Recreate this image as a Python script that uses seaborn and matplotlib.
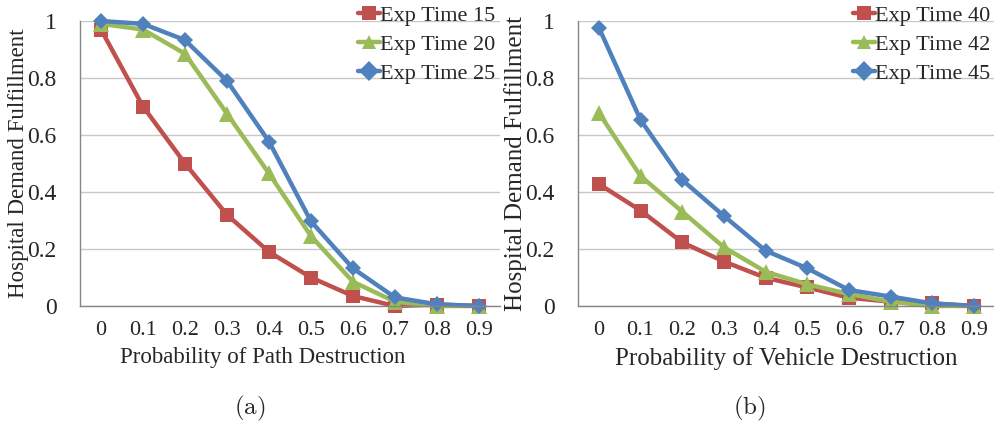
import numpy as np
import pandas as pd
import matplotlib
matplotlib.use("Agg")
import matplotlib.pyplot as plt
import seaborn as sns
from matplotlib.ticker import FixedLocator, NullFormatter, FixedFormatter

# ---- data ----
prob_labels = ["0", "0.1", "0.2", "0.3", "0.4", "0.5", "0.6", "0.7", "0.8", "0.9"]

path_series = ["Exp Time 15", "Exp Time 20", "Exp Time 25"]
path_t15 = [0.97, 0.70, 0.50, 0.32, 0.19, 0.10, 0.035, 0.0, 0.005, 0.0]
path_t20 = [0.99, 0.97, 0.885, 0.675, 0.465, 0.245, 0.085, 0.015, 0.0, 0.0]
path_t25 = [1.0, 0.99, 0.933, 0.79, 0.577, 0.297, 0.132, 0.03, 0.006, 0.0]

veh_series = ["Exp Time 40", "Exp Time 42", "Exp Time 45"]
veh_t40 = [0.428, 0.335, 0.223, 0.156, 0.099, 0.065, 0.029, 0.015, 0.009, 0.0]
veh_t42 = [0.678, 0.456, 0.331, 0.206, 0.12, 0.076, 0.042, 0.015, 0.0, 0.0]
veh_t45 = [0.977, 0.653, 0.442, 0.316, 0.194, 0.132, 0.056, 0.033, 0.009, 0.0]

yticks = [0, 0.2, 0.4, 0.6, 0.8, 1.0]
ytick_labels = ["0", "0.2", "0.4", "0.6", "0.8", "1"]

colors = ["#C0504D", "#9BBB59", "#4F81BD"]
markers = ["s", "^", "D"]

sns.set_style("white")
plt.rcParams["font.family"] = ["Liberation Serif", "DejaVu Serif"]
plt.rcParams["mathtext.fontset"] = "cm"

fig = plt.figure(figsize=(9.95, 4.4), dpi=100)
ax1 = fig.add_axes([80 / 995, 134 / 440, 420 / 995, 285 / 440])
ax2 = fig.add_axes([578 / 995, 134 / 440, 417 / 995, 285 / 440])


def make_df(names, vals):
    rows = []
    for n, v in zip(names, vals):
        for i, y in enumerate(v):
            rows.append({"x": i, "y": y, "series": n})
    return pd.DataFrame(rows)


def draw(ax, names, vals, xlabel, caption, ylab_x, xlab_x, lab_size, cap_x):
    df = make_df(names, vals)
    sns.lineplot(data=df, x="x", y="y", hue="series", style="series",
                 palette=dict(zip(names, colors)),
                 markers=dict(zip(names, markers)),
                 dashes=False, linewidth=3.2, markersize=10,
                 markeredgewidth=0, ax=ax, legend=True, sort=False)
    for line, m in zip(ax.get_lines(), markers):
        if m == "D":
            line.set_markersize(8.5)
        elif m == "^":
            line.set_markersize(11)
    ax.set_xlim(-0.5, 9.5)
    ax.set_ylim(0, 1.0)
    ax.set_yticks(yticks)
    ax.set_yticklabels(ytick_labels, fontsize=17)
    ax.xaxis.set_major_locator(FixedLocator(np.arange(-0.5, 10, 1.0)))
    ax.xaxis.set_major_formatter(NullFormatter())
    ax.xaxis.set_minor_locator(FixedLocator(np.arange(0, 10)))
    ax.xaxis.set_minor_formatter(FixedFormatter(prob_labels))
    ax.tick_params(axis="x", which="major", length=5, color="#868686", width=1, direction="out")
    ax.tick_params(axis="x", which="minor", length=0, labelsize=16, pad=11)
    ax.tick_params(axis="y", length=5, color="#868686", width=1, direction="out", pad=12)
    ax.grid(axis="y", color="#C8C8C8", linewidth=1)
    ax.set_axisbelow(True)
    for s in ["top", "right"]:
        ax.spines[s].set_visible(False)
    for s in ["left", "bottom"]:
        ax.spines[s].set_color("#868686")
        ax.spines[s].set_linewidth(1)
    ax.set_xlabel(xlabel, fontsize=lab_size)
    ax.xaxis.set_label_coords(xlab_x, -0.145)
    ax.set_ylabel("Hospital Demand Fulfillment", fontsize=lab_size)
    ax.yaxis.set_label_coords(ylab_x, 0.5)
    for ln in ax.get_lines():
        ln.set_clip_on(False)
    handles, labels = ax.get_legend_handles_labels()
    for h in handles:
        h.set_linewidth(3.2)
        h.set_markeredgewidth(0)
        h.set_markersize(10)
    ax.legend(handles, labels, loc="upper right", bbox_to_anchor=(1.01, 1.085),
              frameon=False, fontsize=16, handlelength=1.0, handletextpad=0.0,
              labelspacing=0.37, borderaxespad=0)
    ax.text(cap_x, -0.36, caption, transform=ax.transAxes, ha="center",
            va="center", fontsize=18)


draw(ax1, path_series, [path_t15, path_t20, path_t25],
     "Probability of Path Destruction", r"$\mathrm{(a)}$", -0.121, 0.436, 16.5, 0.405)
draw(ax2, veh_series, [veh_t40, veh_t42, veh_t45],
     "Probability of Vehicle Destruction", r"$\mathrm{(b)}$", -0.122, 0.5, 18, 0.412)

fig.savefig("out.png", dpi=100)
